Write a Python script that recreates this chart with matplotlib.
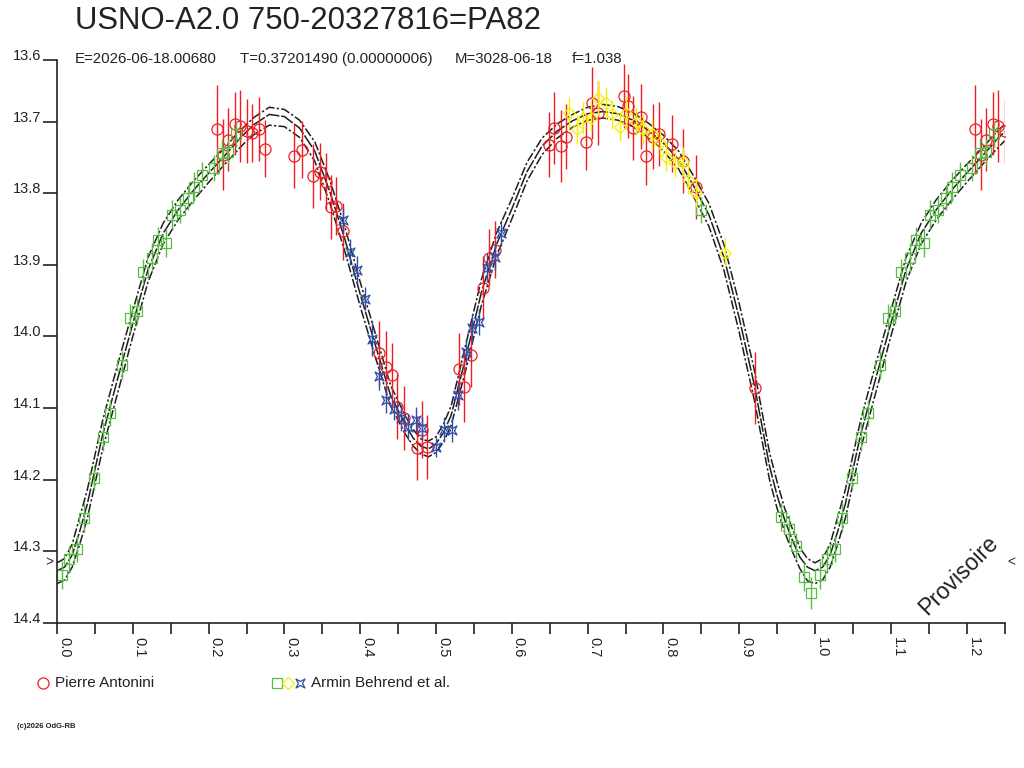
import matplotlib
matplotlib.use('Agg')
from matplotlib import pyplot as plt
from matplotlib.path import Path
from matplotlib.lines import Line2D

plt.rcParams['font.family'] = ['Liberation Sans', 'DejaVu Sans']

# fitted light curve (phase 0..1), middle and envelope
fit_phase = [0.00, 0.01, 0.02, 0.03, 0.04, 0.06, 0.08, 0.10, 0.12, 0.14, 0.16, 0.18, 0.20, 0.22,
             0.24, 0.25, 0.26, 0.28, 0.30, 0.32, 0.34, 0.36, 0.38, 0.40, 0.42, 0.44, 0.46,
             0.47, 0.48, 0.49, 0.50, 0.51, 0.52, 0.54, 0.56, 0.58, 0.60, 0.62, 0.64, 0.66,
             0.68, 0.70, 0.72, 0.74, 0.76, 0.78, 0.80, 0.82, 0.84, 0.86, 0.88, 0.90, 0.92,
             0.94, 0.95, 0.96, 0.97, 0.98, 0.99, 1.00]
fit_mid = [14.327, 14.322, 14.305, 14.272, 14.234, 14.138, 14.059, 13.982, 13.907, 13.856, 13.823,
           13.796, 13.772, 13.749, 13.725, 13.714, 13.704, 13.690, 13.693, 13.709, 13.741, 13.798,
           13.865, 13.941, 14.012, 14.082, 14.124, 14.142, 14.153, 14.157, 14.150, 14.134, 14.110,
           14.026, 13.938, 13.871, 13.822, 13.770, 13.734, 13.713, 13.699, 13.689, 13.686, 13.689,
           13.698, 13.712, 13.730, 13.753, 13.790, 13.830, 13.890, 13.974, 14.068, 14.181, 14.222,
           14.256, 14.284, 14.308, 14.322, 14.327]
fit_hi = [14.316, 14.310, 14.290, 14.252, 14.214, 14.118, 14.039, 13.964, 13.890, 13.842, 13.809,
          13.783, 13.760, 13.738, 13.714, 13.704, 13.694, 13.680, 13.683, 13.698, 13.728, 13.782,
          13.848, 13.924, 13.996, 14.068, 14.112, 14.130, 14.143, 14.146, 14.140, 14.122, 14.097,
          14.008, 13.920, 13.855, 13.808, 13.757, 13.723, 13.703, 13.690, 13.680, 13.676, 13.679,
          13.688, 13.702, 13.719, 13.741, 13.776, 13.814, 13.872, 13.954, 14.047, 14.162, 14.203,
          14.240, 14.268, 14.295, 14.310, 14.316]
fit_lo = [14.345, 14.340, 14.322, 14.290, 14.254, 14.158, 14.079, 14.000, 13.924, 13.871, 13.837,
          13.810, 13.785, 13.761, 13.738, 13.727, 13.718, 13.705, 13.707, 13.722, 13.755, 13.814,
          13.882, 13.958, 14.029, 14.097, 14.137, 14.153, 14.164, 14.168, 14.162, 14.147, 14.124,
          14.044, 13.956, 13.887, 13.836, 13.783, 13.746, 13.723, 13.708, 13.698, 13.695, 13.698,
          13.707, 13.722, 13.741, 13.766, 13.805, 13.846, 13.908, 13.994, 14.089, 14.200, 14.240,
          14.273, 14.300, 14.324, 14.341, 14.345]

# Pierre Antonini
pa_phase = [0.2105, 0.2184, 0.225, 0.2342, 0.2408, 0.25, 0.2579, 0.2671, 0.275, 0.3132, 0.3237,
            0.3382, 0.3474, 0.3553, 0.3618, 0.3684, 0.3776, 0.425, 0.4342, 0.4421, 0.4487, 0.4579,
            0.475, 0.4816, 0.4882, 0.5303, 0.5368, 0.5461, 0.5618, 0.5697, 0.5776, 0.6487, 0.6553,
            0.6645, 0.6711, 0.6974, 0.7053, 0.7132, 0.7474, 0.7539, 0.7605, 0.7711, 0.7776, 0.7868,
            0.7947, 0.8118, 0.8263, 0.8434, 0.9211]
pa_mag = [13.711, 13.746, 13.725, 13.703, 13.706, 13.713, 13.716, 13.710, 13.738, 13.748, 13.739,
          13.776, 13.770, 13.784, 13.819, 13.818, 13.853, 14.023, 14.042, 14.054, 14.098, 14.114,
          14.156, 14.130, 14.154, 14.045, 14.070, 14.026, 13.932, 13.890, 13.879, 13.732, 13.709,
          13.734, 13.721, 13.728, 13.674, 13.688, 13.664, 13.678, 13.709, 13.693, 13.748, 13.721,
          13.717, 13.731, 13.755, 13.791, 14.072]
pa_err = [0.062, 0.05, 0.044, 0.044, 0.05, 0.045, 0.04, 0.045, 0.04, 0.045, 0.04,
          0.045, 0.04, 0.04, 0.045, 0.04, 0.04, 0.045, 0.05, 0.045, 0.045, 0.045,
          0.045, 0.04, 0.045, 0.05, 0.05, 0.045, 0.045, 0.04, 0.04, 0.045, 0.05,
          0.05, 0.045, 0.04, 0.05, 0.045, 0.045, 0.045, 0.045, 0.045, 0.04, 0.045,
          0.045, 0.04, 0.045, 0.045, 0.05]

# Armin Behrend et al. - three sets
ab1_phase = [0.0066, 0.0158, 0.0263, 0.0355, 0.0487, 0.0605, 0.0697, 0.0855, 0.0961, 0.1053,
             0.1132, 0.125, 0.1329, 0.1434, 0.1513, 0.1618, 0.1724, 0.1803, 0.1908, 0.2066,
             0.2171, 0.225, 0.2368, 0.85, 0.9553, 0.9658, 0.975, 0.9855, 0.9947]
ab1_mag = [14.333, 14.311, 14.297, 14.253, 14.197, 14.140, 14.107, 14.040, 13.974, 13.964,
           13.910, 13.890, 13.865, 13.869, 13.830, 13.823, 13.806, 13.791, 13.774, 13.765,
           13.744, 13.742, 13.718, 13.823, 14.252, 14.269, 14.292, 14.336, 14.358]
ab1_err = [0.02, 0.018, 0.018, 0.02, 0.018, 0.02, 0.018, 0.02, 0.02, 0.018,
           0.018, 0.02, 0.018, 0.02, 0.02, 0.018, 0.018, 0.02, 0.018, 0.018,
           0.02, 0.018, 0.018, 0.018, 0.02, 0.02, 0.018, 0.02, 0.022]

ab2_phase = [0.675, 0.6855, 0.6934, 0.7039, 0.7132, 0.7237, 0.7316, 0.7421, 0.7513, 0.7632,
             0.7737, 0.7855, 0.7961, 0.8039, 0.8158, 0.8263, 0.8329, 0.8434, 0.8816]
ab2_mag = [13.688, 13.711, 13.695, 13.695, 13.667, 13.674, 13.690, 13.707, 13.688, 13.700,
           13.711, 13.718, 13.730, 13.749, 13.758, 13.756, 13.781, 13.799, 13.883]
ab2_err = [0.022, 0.02, 0.022, 0.02, 0.025, 0.022, 0.02, 0.02, 0.022, 0.02,
           0.02, 0.022, 0.02, 0.02, 0.02, 0.02, 0.02, 0.02, 0.02]

ab3_phase = [0.3776, 0.3868, 0.3961, 0.4066, 0.4158, 0.425, 0.4342, 0.4447, 0.4539, 0.4632,
             0.4737, 0.4816, 0.5, 0.5105, 0.5211, 0.5289, 0.5395, 0.5474, 0.5566, 0.5671,
             0.5776, 0.5855]
ab3_mag = [13.837, 13.882, 13.907, 13.947, 14.003, 14.055, 14.089, 14.101, 14.114, 14.126,
           14.116, 14.128, 14.154, 14.130, 14.130, 14.082, 14.022, 13.988, 13.980, 13.904,
           13.889, 13.855]
ab3_err = [0.018, 0.018, 0.02, 0.016, 0.024, 0.02, 0.018, 0.016, 0.018, 0.018,
           0.018, 0.016, 0.014, 0.018, 0.018, 0.02, 0.018, 0.02, 0.018, 0.02,
           0.018, 0.018]

x_max = 1.25
y_top, y_bottom = 13.614, 14.4
y_ticks = [13.614, 13.7, 13.8, 13.9, 14.0, 14.1, 14.2, 14.3, 14.4]
y_labels = ['13.6', '13.7', '13.8', '13.9', '14.0', '14.1', '14.2', '14.3', '14.4']
x_ticks = [0.0, 0.1, 0.2, 0.3, 0.4, 0.5, 0.6, 0.7, 0.8, 0.9, 1.0, 1.1, 1.2]

RED = '#f01e23'
GREEN = '#5bbd45'
YELLOW = '#f5f000'
BLUE = '#2e4fa8'
CURVE = '#1e1e1e'

star = Path([(-1, -1), (0, -0.45), (1, -1), (0.45, 0), (1, 1), (0, 0.45), (-1, 1),
             (-0.45, 0), (-1, -1)], closed=True)


def fold(phase, *vals):
    # repeat points from the start of the cycle after phase 1
    px = list(phase)
    out = [list(v) for v in vals]
    for i, p in enumerate(phase):
        if 0 < p and p + 1 <= x_max:
            px.append(p + 1)
            for o, v in zip(out, vals):
                o.append(v[i])
    return [px] + out


fig = plt.figure(figsize=(10.24, 7.68), dpi=100)
ax = fig.add_axes([57 / 1024, 1 - 623 / 768, 947.5 / 1024, 563 / 768])

cx, cm, ch, cl = fold(fit_phase, fit_mid, fit_hi, fit_lo)
ax.plot(cx, ch, color=CURVE, lw=1.1, ls=(0, (6, 1.5, 1.5, 1.5)))
ax.plot(cx, cm, color=CURVE, lw=1.1, ls=(0, (9, 1.2)))
ax.plot(cx, cl, color=CURVE, lw=1.1, ls=(0, (6, 1.5, 1.5, 1.5)))

sets = [
    (pa_phase, pa_mag, pa_err, RED, 'o', 8.0),
    (ab1_phase, ab1_mag, ab1_err, GREEN, 's', 6.5),
    (ab2_phase, ab2_mag, ab2_err, YELLOW, 'D', 6.0),
    (ab3_phase, ab3_mag, ab3_err, BLUE, star, 6.5),
]
for ph, mg, er, col, mk, ms in sets:
    x, y, e = fold(ph, mg, er)
    ax.errorbar(x, y, yerr=e, fmt='none', ecolor=col, elinewidth=1.0, capsize=0)
    ax.plot(x, y, ls='none', marker=mk, ms=ms, mfc='none', mec=col, mew=0.9)

ax.set_xlim(0, x_max)
ax.set_ylim(y_bottom, y_top)
ax.set_xticks(x_ticks)
ax.set_xticklabels(['%.1f' % t for t in x_ticks], rotation=-90, ha='left', va='top',
                   fontsize=10.5, color='#222222')
ax.set_xticks([t + 0.05 for t in x_ticks], minor=True)
ax.set_yticks(y_ticks)
ax.set_yticklabels(y_labels, fontsize=10.5, color='#222222', va='baseline')
ax.tick_params(axis='x', which='both', direction='out', length=8, width=1.2, pad=2,
               color='#222222')
ax.tick_params(axis='y', direction='out', length=10, width=1.2, pad=1, color='#222222')
for s in ['top', 'right']:
    ax.spines[s].set_visible(False)
for s in ['left', 'bottom']:
    ax.spines[s].set_linewidth(1.2)
    ax.spines[s].set_color('#222222')

# min level markers
ax.annotate('>', xy=(-0.004, 14.315), xycoords=('axes fraction', 'data'), ha='right',
            va='center', fontsize=10, color='#333333', annotation_clip=False)
ax.annotate('<', xy=(1.003, 14.315), xycoords=('axes fraction', 'data'), ha='left',
            va='center', fontsize=10, color='#333333', annotation_clip=False)

ax.text(0.951, 0.085, 'Provisoire', transform=ax.transAxes, rotation=45, fontsize=16.5,
        ha='center', va='center', color='#222222')

fig.text(75 / 1024, 1 - 29 / 768, 'USNO-A2.0 750-20327816=PA82', fontsize=22.4,
         color='#222222', va='baseline')
sub = [(75, 'E=2026-06-18.00680'), (240, 'T=0.37201490 (0.00000006)'),
       (455, 'M=3028-06-18'), (572, 'f=1.038')]
for px, s in sub:
    fig.text(px / 1024, 1 - 63 / 768, s, fontsize=10.8, color='#222222', va='baseline')

# legend
ly = 1 - 683 / 768
fig.add_artist(Line2D([43 / 1024], [ly], marker='o', ms=8, mfc='none', mec=RED, mew=0.9,
                      transform=fig.transFigure))
fig.text(55 / 1024, 1 - 687 / 768, 'Pierre Antonini', fontsize=11, color='#222222',
         va='baseline')
for px, col, mk, ms in [(277, GREEN, 's', 6.5), (288, YELLOW, 'D', 6), (300, BLUE, star, 6.5)]:
    fig.add_artist(Line2D([px / 1024], [ly], marker=mk, ms=ms, mfc='none', mec=col, mew=0.9,
                          transform=fig.transFigure))
fig.text(311 / 1024, 1 - 687 / 768, 'Armin Behrend et al.', fontsize=11, color='#222222',
         va='baseline')

fig.text(17 / 1024, 1 - 728 / 768, '(c)2026 OdG-RB', fontsize=5.5, fontweight='bold',
         color='#222222', va='baseline')

fig.savefig('out.png', dpi=100)
